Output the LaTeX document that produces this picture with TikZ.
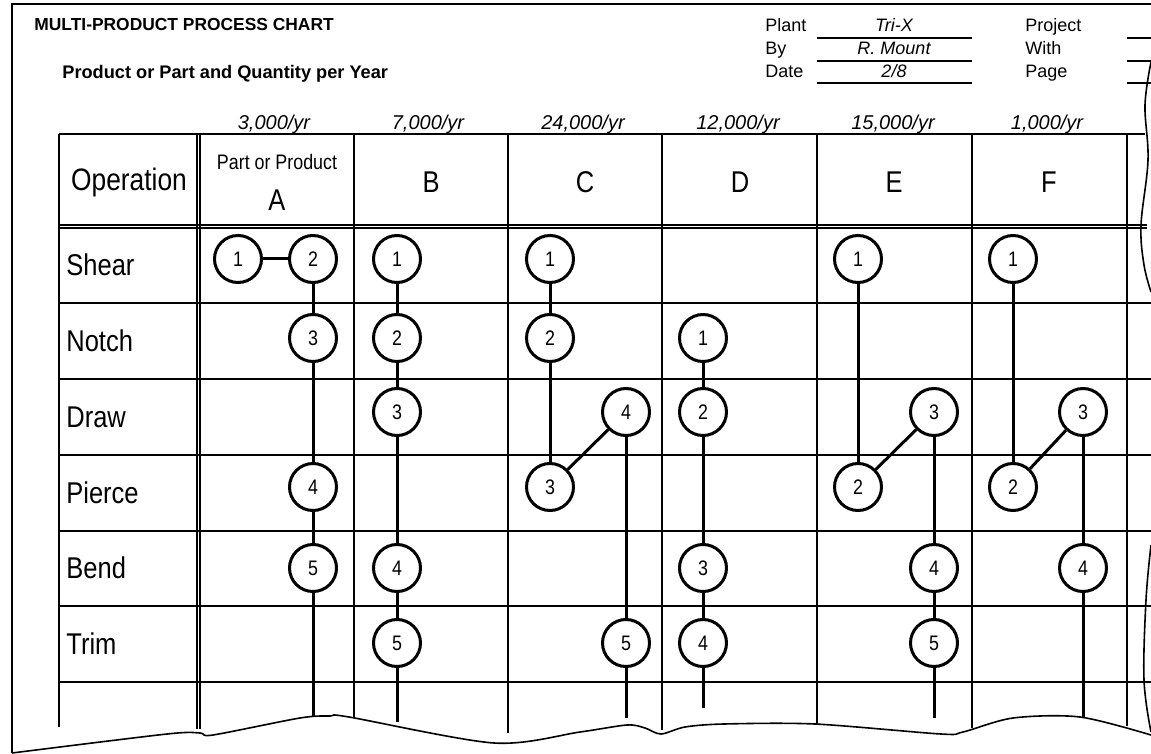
\documentclass[tikz,border=0pt]{standalone}
\usepackage{fontspec}
\setmainfont{Liberation Sans}
\newfontfamily\narrowfont[FakeStretch=0.85]{Liberation Sans}
\usetikzlibrary{positioning}

\begin{document}
\begin{tikzpicture}[
    x=0.5pt, y=-0.5pt,
    opcircle/.style={circle, draw=black, line width=1.5pt, minimum size=23.5pt, inner sep=0pt, font=\narrowfont\fontsize{10.5pt}{12pt}\selectfont},
    flow/.style={line width=1.5pt},
    gridline/.style={line width=0.6pt},
    boldline/.style={line width=1.1pt},
    frameline/.style={line width=0.8pt},
    tornedge/.style={line width=0.8pt},
    oplabel/.style={anchor=west, inner sep=0pt, font=\narrowfont\fontsize{15pt}{17pt}\selectfont},
    partlabel/.style={inner sep=0pt, font=\narrowfont\fontsize{15pt}{17pt}\selectfont},
    smalllabel/.style={inner sep=0pt, font=\narrowfont\fontsize{10.5pt}{12pt}\selectfont},
    qty/.style={anchor=base, inner sep=0pt, font=\itshape\fontsize{10pt}{12pt}\selectfont},
    formlabel/.style={anchor=base west, inner sep=0pt, font=\fontsize{9pt}{11pt}\selectfont},
    formvalue/.style={anchor=base, inner sep=0pt, font=\itshape\fontsize{9pt}{11pt}\selectfont},
    titletext/.style={anchor=base west, inner sep=0pt, font=\bfseries\fontsize{8.7pt}{11pt}\selectfont}
]
\useasboundingbox (0,0) rectangle (1151,754);

\draw[frameline] (1151,4) -- (12,4) -- (12,753);
\draw[tornedge] plot[smooth, tension=0.5] coordinates {(12,753) (167,734) (200,733) (213,735) (300,718) (330,716) (349,717) (494,743) (580,732) (627,725) (645,728) (661,734) (685,727) (724,724) (815,724) (941,734) (963,732) (1013,718) (1080,717) (1151,735)};
\draw[tornedge] plot[smooth, tension=0.6] coordinates {(1151,62) (1145,105) (1148,160) (1141,225) (1144,265) (1151,292)};
\draw[tornedge] plot[smooth, tension=0.6] coordinates {(1151,545) (1146,600) (1144,680) (1151,732)};

\node[titletext] (title) at (34,31) {MULTI-PRODUCT PROCESS CHART};
\node[titletext, font=\bfseries\fontsize{9.1pt}{11pt}\selectfont] (subtitle) at (62,79) {Product or Part and Quantity per Year};

\node[formlabel] (plant) at (765,32) {Plant};
\node[formlabel] (by) at (765,55) {By};
\node[formlabel] (date) at (765,78) {Date};
\node[formvalue] (plantval) at (894,32) {Tri-X};
\node[formvalue] (byval) at (894,55) {R. Mount};
\node[formvalue] (dateval) at (894,78) {2/8};
\node[formlabel] (project) at (1025,32) {Project};
\node[formlabel] (with) at (1025,55) {With};
\node[formlabel] (page) at (1025,78) {Page};
\draw[gridline] (817,38) -- (972,38);
\draw[gridline] (817,61) -- (972,61);
\draw[gridline] (817,83) -- (972,83);
\draw[gridline] (1127,38) -- (1151,38);
\draw[gridline] (1127,61) -- (1151,61);
\draw[gridline] (1127,83) -- (1151,83);

\node[qty] (qtyA) at (274,130) {3,000/yr};
\node[qty] (qtyB) at (428,130) {7,000/yr};
\node[qty] (qtyC) at (583,130) {24,000/yr};
\node[qty] (qtyD) at (738,130) {12,000/yr};
\node[qty] (qtyE) at (893,130) {15,000/yr};
\node[qty] (qtyF) at (1047,130) {1,000/yr};

\draw[boldline] (59,134) -- (1145,134);
\draw[gridline] (59,225) -- (1147,225);
\draw[gridline] (59,228) -- (1147,228);
\draw[gridline] (59,303) -- (1151,303);
\draw[gridline] (59,379) -- (1151,379);
\draw[gridline] (59,455) -- (1151,455);
\draw[gridline] (59,531) -- (1151,531);
\draw[gridline] (59,606) -- (1151,606);
\draw[gridline] (59,682) -- (1151,682);
\draw[boldline] (59,134) -- (59,727);
\draw[gridline] (197,134) -- (197,729);
\draw[gridline] (200,134) -- (200,729);
\draw[gridline] (354,134) -- (354,717);
\draw[gridline] (508,134) -- (508,733);
\draw[gridline] (662,134) -- (662,730);
\draw[gridline] (817,134) -- (817,725);
\draw[gridline] (972,134) -- (972,728);
\draw[gridline] (1127,134) -- (1127,726);

\node[partlabel, anchor=base, font=\narrowfont\fontsize{15.5pt}{17pt}\selectfont] (operation) at (129,191) {Operation};
\node[smalllabel] (partorproduct) at (277,162) {Part or Product};
\node[partlabel] (partA) at (277,200) {A};
\node[partlabel] (partB) at (431,182) {B};
\node[partlabel] (partC) at (585,182) {C};
\node[partlabel] (partD) at (740,182) {D};
\node[partlabel] (partE) at (894,182) {E};
\node[partlabel] (partF) at (1049,182) {F};

\node[oplabel] (shear) at (66,265) {Shear};
\node[oplabel] (notch) at (66,341) {Notch};
\node[oplabel] (draw) at (66,417) {Draw};
\node[oplabel] (pierce) at (66,493) {Pierce};
\node[oplabel] (bend) at (66,568) {Bend};
\node[oplabel] (trim) at (66,644) {Trim};

\node[opcircle] (A1) at (238,259) {1};
\node[opcircle] (A2) at (313,259) {2};
\node[opcircle] (A3) at (313,338) {3};
\node[opcircle] (A4) at (313,487) {4};
\node[opcircle] (A5) at (313,568) {5};
\coordinate (A-end) at (313,717);

\node[opcircle] (B1) at (397,259) {1};
\node[opcircle] (B2) at (397,338) {2};
\node[opcircle] (B3) at (397,412) {3};
\node[opcircle] (B4) at (397,568) {4};
\node[opcircle] (B5) at (397,643) {5};
\coordinate (B-end) at (397,722);

\node[opcircle] (C1) at (550,259) {1};
\node[opcircle] (C2) at (550,338) {2};
\node[opcircle] (C3) at (550,487) {3};
\node[opcircle] (C4) at (626,412) {4};
\node[opcircle] (C5) at (626,643) {5};
\coordinate (C-end) at (626,718);

\node[opcircle] (D1) at (703,338) {1};
\node[opcircle] (D2) at (703,412) {2};
\node[opcircle] (D3) at (703,568) {3};
\node[opcircle] (D4) at (703,643) {4};
\coordinate (D-end) at (703,708);

\node[opcircle] (E1) at (858,259) {1};
\node[opcircle] (E2) at (858,487) {2};
\node[opcircle] (E3) at (934,412) {3};
\node[opcircle] (E4) at (934,568) {4};
\node[opcircle] (E5) at (934,643) {5};
\coordinate (E-end) at (934,718);

\node[opcircle] (F1) at (1013,259) {1};
\node[opcircle] (F2) at (1013,487) {2};
\node[opcircle] (F3) at (1083,412) {3};
\node[opcircle] (F4) at (1083,568) {4};
\coordinate (F-end) at (1083,718);

\draw[flow] (A1) -- (A2);
\draw[flow] (A2) -- (A3);
\draw[flow] (A3) -- (A4);
\draw[flow] (A4) -- (A5);
\draw[flow] (A5) -- (A-end);
\draw[flow] (B1) -- (B2);
\draw[flow] (B2) -- (B3);
\draw[flow] (B3) -- (B4);
\draw[flow] (B4) -- (B5);
\draw[flow] (B5) -- (B-end);
\draw[flow] (C1) -- (C2);
\draw[flow] (C2) -- (C3);
\draw[flow] (C3) -- (C4);
\draw[flow] (C4) -- (C5);
\draw[flow] (C5) -- (C-end);
\draw[flow] (D1) -- (D2);
\draw[flow] (D2) -- (D3);
\draw[flow] (D3) -- (D4);
\draw[flow] (D4) -- (D-end);
\draw[flow] (E1) -- (E2);
\draw[flow] (E2) -- (E3);
\draw[flow] (E3) -- (E4);
\draw[flow] (E4) -- (E5);
\draw[flow] (E5) -- (E-end);
\draw[flow] (F1) -- (F2);
\draw[flow] (F2) -- (F3);
\draw[flow] (F3) -- (F4);
\draw[flow] (F4) -- (F-end);

\end{tikzpicture}
\end{document}
